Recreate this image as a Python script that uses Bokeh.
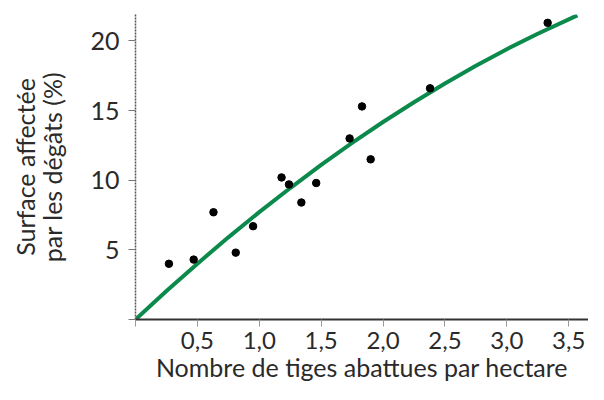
from bokeh.plotting import figure
from bokeh.models import FixedTicker, Range1d
from bokeh.embed import file_html
from bokeh.resources import INLINE

# data
stems_x = [0.27, 0.47, 0.63, 0.81, 0.95, 1.18, 1.24, 1.34, 1.46, 1.73, 1.83, 1.90, 2.38, 3.33]
damage_y = [4.0, 4.3, 7.7, 4.8, 6.7, 10.2, 9.7, 8.4, 9.8, 13.0, 15.3, 11.5, 16.6, 21.3]

curve_x = [0.0, 0.25, 0.5, 0.75, 1.0, 1.25, 1.5, 1.75, 2.0, 2.25, 2.5, 2.75, 3.0, 3.25, 3.57]
curve_y = [0.0, 2.04, 4.01, 5.9, 7.71, 9.44, 11.1, 12.68, 14.18, 15.6, 16.95, 18.22, 19.41, 20.52, 21.84]

x_ticks = [0, 0.5, 1.0, 1.5, 2.0, 2.5, 3.0, 3.5]
x_tick_labels = ["", "0,5", "1,0", "1,5", "2,0", "2,5", "3,0", "3,5"]
y_ticks = [0, 5, 10, 15, 20]
y_tick_labels = ["", "5", "10", "15", "20"]

x_title = "Nombre de tiges abattues par hectare"
y_title = "Surface affectée\npar les dégâts (%)"

FONT = "Lato"
TXT = "#2a2a2a"

p = figure(width=588, height=384, output_backend="svg", toolbar_location=None,
           x_range=Range1d(0, 3.66), y_range=Range1d(0, 21.9),
           min_border_left=135, min_border_right=0, min_border_top=14, min_border_bottom=64)
p.outline_line_color = None
p.xgrid.visible = False
p.ygrid.visible = False

p.line(curve_x, curve_y, line_color="#0b8a4c", line_width=4)
p.scatter(stems_x, damage_y, size=7.5, color="black")

xa = p.xaxis[0]
xa.ticker = FixedTicker(ticks=x_ticks)
xa.major_label_overrides = {t: l for t, l in zip(x_ticks, x_tick_labels)}
xa.axis_line_color = "#333333"
xa.axis_line_width = 2
xa.major_tick_out = 7
xa.major_tick_in = 0
xa.major_tick_line_color = "#999999"
xa.minor_tick_out = 0
xa.minor_tick_in = 0
xa.major_label_standoff = 5
xa.major_label_text_font = FONT
xa.major_label_text_font_size = "24px"
xa.major_label_text_color = TXT
xa.axis_label = x_title
xa.axis_label_text_font = FONT
xa.axis_label_text_font_size = "25px"
xa.axis_label_text_font_style = "normal"
xa.axis_label_text_color = TXT
xa.axis_label_standoff = 0

ya = p.yaxis[0]
ya.ticker = FixedTicker(ticks=y_ticks)
ya.major_label_overrides = {t: l for t, l in zip(y_ticks, y_tick_labels)}
ya.axis_line_color = "#555555"
ya.axis_line_width = 1.5
ya.axis_line_dash = "2 1"
ya.major_tick_out = 7
ya.major_tick_in = 0
ya.major_tick_line_color = "#777777"
ya.minor_tick_out = 0
ya.minor_tick_in = 0
ya.major_label_standoff = 9
ya.major_label_text_font = FONT
ya.major_label_text_font_size = "25px"
ya.major_label_text_color = TXT
ya.axis_label = y_title
ya.axis_label_text_font = FONT
ya.axis_label_text_font_size = "25px"
ya.axis_label_text_font_style = "normal"
ya.axis_label_text_color = TXT
ya.axis_label_text_line_height = 0.92
ya.axis_label_standoff = 20

open("out.html", "w").write(file_html(p, INLINE))
